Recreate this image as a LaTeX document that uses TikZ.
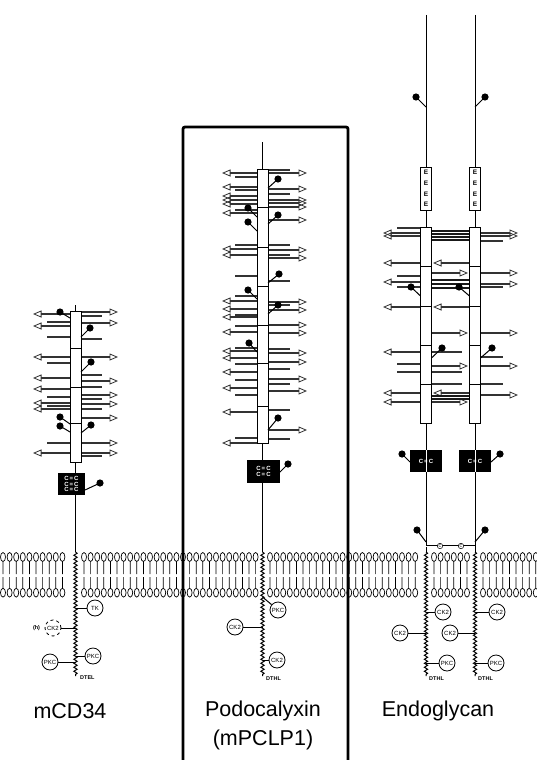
\documentclass[tikz,border=0pt]{standalone}
\usepackage{fontspec}
\setmainfont{Liberation Sans}
\usepackage{tikz}
\usetikzlibrary{arrows.meta,decorations.pathmorphing,positioning}

\tikzset{
  glyarrow/.style = {draw = black!80, line width = 1.2pt, -{Triangle[open, length = 8.5pt, width = 7pt, line width = 0.8pt]}},
  glyline/.style = {draw = black!80, line width = 1.2pt},
  glythick/.style = {draw = black!90, line width = 1.8pt},
  rod/.style = {draw, fill = white, line width = 0.9pt},
  stem/.style = {line width = 1pt},
  wavy/.style = {line width = 1pt, decorate, decoration = {snake, amplitude = 1.6pt, segment length = 4pt}},
  enzyme/.style = {draw, circle, fill = white, line width = 0.8pt, minimum size = 16pt, inner sep = 0pt, font = \fontsize{6}{6}\selectfont},
  tailtag/.style = {anchor = west, inner sep = 0pt, font = \fontsize{5.5}{5.5}\selectfont\bfseries},
  cysteine/.style = {text = white, inner sep = 0pt, font = \fontsize{6}{6.5}\selectfont\bfseries, align = center},
  title/.style = {font = \fontsize{21.5}{26}\selectfont}
}

\newcommand{\lipid}[1]{\draw[line width = 0.7pt] (#1,557) ellipse (2.5 and 4.5) (#1,561.5) -- (#1,574) (#1,577) -- (#1,588.3) (#1,592.7) ellipse (2.5 and 4.4);}
\newcommand{\lollipop}[4]{\draw[stem] (#1,#2) -- (#3,#4); \fill (#3,#4) circle (3.6);}

\begin{document}
\begin{tikzpicture}[x = 1pt, y = -1pt]
\useasboundingbox (0,0) rectangle (537,760);

\coordinate (cd) at (75.5,0);
\coordinate (pc) at (262.5,0);
\coordinate (eg1) at (426,0);
\coordinate (eg2) at (475,0);

% membrane
\foreach \x in {3,9.6,...,68} \lipid{\x};
\foreach \x in {84,90.6,...,256} \lipid{\x};
\foreach \x in {270,276.6,...,419} \lipid{\x};
\foreach \x in {434,440.6,...,468} \lipid{\x};
\foreach \x in {483,489.6,...,536} \lipid{\x};

% mCD34
\foreach \y in {314,326,357,378,389,403,409,453} \draw[glyarrow] (75.5,\y) -- (33,\y);
\foreach \y in {322,337,363,397,406,443} \draw[glyline] (75.5,\y) -- (47,\y);
\foreach \y in {312,323,357,381,395,404,418,443,453} \draw[glyarrow] (75.5,\y) -- (118,\y);
\foreach \y in {316,339,375,387,399,409,456} \draw[glyline] (75.5,\y) -- (102,\y);
\draw[stem] (75.5,305) -- (75.5,311) (75.5,462) -- (75.5,552);
\draw[rod] (70,311) rectangle (81,462);
\foreach \y in {348,387,423} \draw[line width = 0.9pt] (70,\y) -- (81,\y);
\lollipop{70}{318}{60}{312}
\lollipop{81}{337}{90}{328}
\lollipop{81}{372}{91}{362}
\lollipop{70}{424}{60}{417}
\lollipop{70}{432}{60}{426}
\lollipop{81}{433}{91}{425}
\fill (58,473) rectangle (85,495);
\node[cysteine] (cdcys) at (71.5,484) {C\,=\,C\\[-1pt]C\,=\,C\\[-1pt]C\,=\,C};
\lollipop{85}{490}{100}{483}
\draw[wavy] (75.5,552) -- (75.5,676);
\node[enzyme] (cdtk) at (95,608) {TK};
\node[enzyme, dashed] (cdck) at (53,628) {CK2};
\node[enzyme] (cdpkc1) at (93,656) {PKC};
\node[enzyme] (cdpkc2) at (50,662) {PKC};
\node[font = \fontsize{5.5}{5.5}\selectfont\bfseries, left = 1pt of cdck] (cdh) {(h)};
\node[tailtag] (cdtail) at (80,678) {DTEL};
\draw[stem] (cdtk) -- (cdtk -| cd);
\draw[stem] (cdck) -- (cdck -| cd);
\draw[stem] (cdpkc1) -- (cdpkc1 -| cd);
\draw[stem] (cdpkc2) -- (cdpkc2 -| cd);

% Podocalyxin
\draw[line width = 2.8pt, rounded corners = 2pt] (183,765) -- (183,127) -- (348,127) -- (348,765);
\foreach \y in {173,187,196,200,204,213,249,255,301,309,317,332,351,358,372,388,412,443} \draw[glyarrow] (262.5,\y) -- (222,\y);
\foreach \y in {177,190,210,245,276,296,315,326,348,364,380,395,438} \draw[glyline] (262.5,\y) -- (235,\y);
\foreach \y in {173,189,200,203,207,220,250,258,302,310,325,333,353,362,379,391,430} \draw[glyarrow] (262.5,\y) -- (307,\y);
\foreach \y in {170,194,245,255,281,305,349,369,384,410,439} \draw[glyline] (262.5,\y) -- (290,\y);
\draw[stem] (262.5,142) -- (262.5,169) (262.5,443) -- (262.5,552);
\draw[rod] (257,169) rectangle (268,443);
\foreach \y in {207,247,286,325,363,406} \draw[line width = 0.9pt] (257,\y) -- (268,\y);
\lollipop{268}{188}{278}{179}
\lollipop{257}{217}{248}{208}
\lollipop{268}{224}{278}{215}
\lollipop{257}{231}{248}{222}
\lollipop{268}{283}{279}{274}
\lollipop{257}{299}{248}{290}
\lollipop{268}{314}{278}{305}
\lollipop{257}{352}{249}{343}
\lollipop{268}{430}{278}{418}
\fill (247,460) rectangle (280,483);
\node[cysteine] (pccys) at (263.5,471.5) {C\,=\,C\\[0pt]C\,=\,C};
\lollipop{279}{473}{288}{464}
\draw[wavy] (262.5,552) -- (262.5,676);
\node[enzyme] (pcpkc) at (278,610) {PKC};
\node[enzyme] (pcck1) at (235,627) {CK2};
\node[enzyme] (pcck2) at (277,660) {CK2};
\node[tailtag] (pctail) at (266,679) {DTHL};
\draw[stem] (262.5,597) -- (pcpkc);
\draw[stem] (pcck1) -- (pcck1 -| pc);
\draw[stem] (pcck2) -- (pcck2 -| pc);

% Endoglycan
\foreach \y in {233,236,263,282,307,352,393,402} \draw[glyarrow] (426,\y) -- (383,\y);
\foreach \y in {228,276,287,364,372} \draw[glyline] (426,\y) -- (397,\y);
\foreach \y in {233,236,273,284,333,366,395} \draw[glyarrow] (475,\y) -- (518,\y);
\foreach \y in {241,287,357,384} \draw[glyline] (475,\y) -- (503,\y);
\foreach \y in {263,307,393} \draw[glyarrow] (475,\y) -- (433,\y);
\foreach \y in {273,333,366,402} \draw[glyarrow] (426,\y) -- (468,\y);
\foreach \y in {231,234,237,240,280,284,288,396,399} \draw[glythick] (426,\y) -- (475,\y);
\foreach \y in {352,372,384} \draw[glyline] (426,\y) -- (462,\y);
\foreach \c in {426,475} {
  \draw[stem] (\c,15) -- (\c,167) (\c,210) -- (\c,227) (\c,423) -- (\c,552);
  \draw[rod] (\c-5.5,167) rectangle (\c+5.5,210);
  \foreach \k in {0,1,2,3} \node[inner sep = 0pt, font = \fontsize{6.5}{6.5}\selectfont\bfseries] at (\c,172.5+\k*10.7) {E};
  \draw[rod] (\c-5.5,227) rectangle (\c+5.5,423);
  \foreach \y in {266,306,345,384} \draw[line width = 0.9pt] (\c-5.5,\y) -- (\c+5.5,\y);
  \fill (\c-16,450) rectangle (\c+16,472);
  \draw[white, line width = 0.8pt] (\c,450) -- (\c,472);
  \draw[wavy] (\c,552) -- (\c,676);
}
\node[cysteine] (egcys1) at (426,461) {C\,=\,C};
\node[cysteine] (egcys2) at (475,461) {C\,=\,C};
\lollipop{426}{107}{416}{97}
\lollipop{475}{107}{485}{97}
\lollipop{420.5}{296}{411}{287}
\lollipop{469.5}{296}{459}{287}
\lollipop{431.5}{358}{442}{348}
\lollipop{480.5}{358}{492}{348}
\lollipop{410}{462}{402}{454}
\lollipop{491}{462}{500}{454}
\lollipop{426}{542}{417}{530}
\lollipop{475}{542}{485}{530}
\draw[line width = 0.6pt, double, double distance = 1pt] (426,546) -- (475,546);
\node[draw, circle, fill = white, inner sep = 0.5pt, line width = 0.5pt, font = \fontsize{4}{4}\selectfont] (egss1) at (440,546) {C};
\node[draw, circle, fill = white, inner sep = 0.5pt, line width = 0.5pt, font = \fontsize{4}{4}\selectfont] (egss2) at (461,546) {C};
\node[enzyme] (egck1) at (443,612) {CK2};
\node[enzyme] (egck2) at (497,612) {CK2};
\node[enzyme] (egck3) at (400,633) {CK2};
\node[enzyme] (egck4) at (450,633) {CK2};
\node[enzyme] (egpkc1) at (447,663) {PKC};
\node[enzyme] (egpkc2) at (496,663) {PKC};
\node[tailtag] (egtail1) at (429,679) {DTHL};
\node[tailtag] (egtail2) at (478,679) {DTHL};
\draw[stem] (egck1) -- (egck1 -| eg1);
\draw[stem] (egck2) -- (egck2 -| eg2);
\draw[stem] (egck3) -- (egck3 -| eg1);
\draw[stem] (egck4) -- (egck4 -| eg2);
\draw[stem] (egpkc1) -- (egpkc1 -| eg1);
\draw[stem] (egpkc2) -- (egpkc2 -| eg2);

\node[title] (cdname) at (70,711) {mCD34};
\node[title] (pcname) at (263,711) {Podocalyxin};
\node[title, below = 2pt of pcname] (pcalt) {(mPCLP1)};
\node[title] (egname) at (438,711) {Endoglycan};
\end{tikzpicture}
\end{document}
